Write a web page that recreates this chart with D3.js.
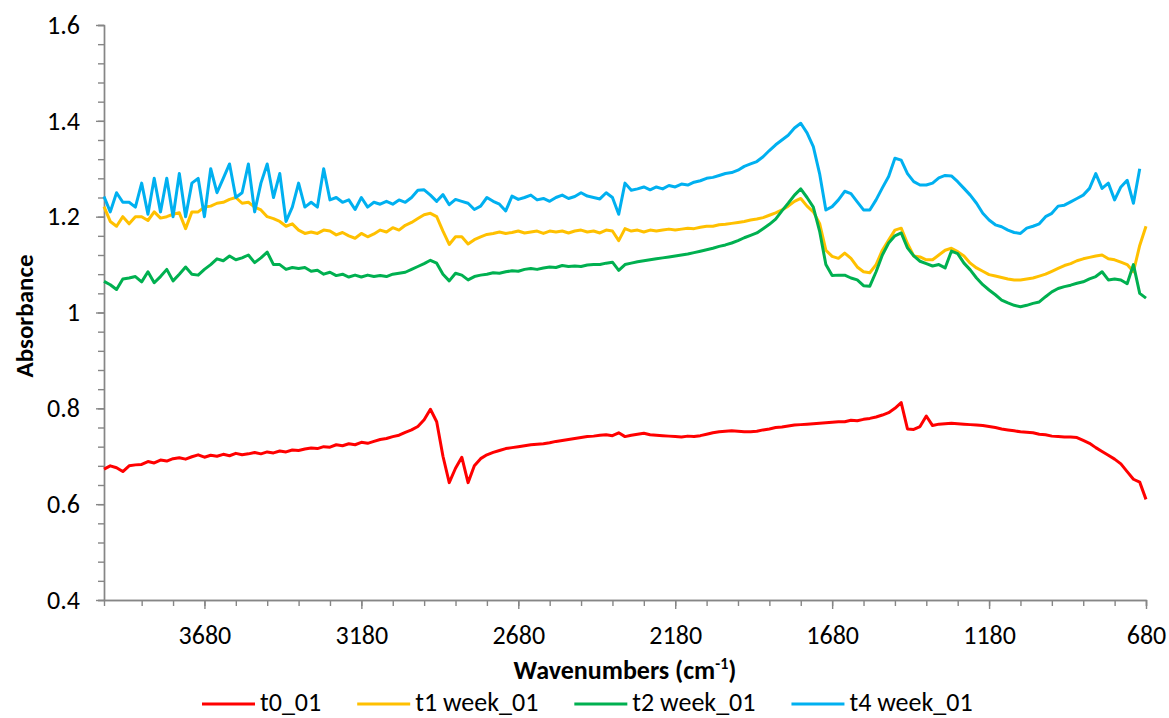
<!DOCTYPE html>
<html lang="en">

<head>
    <meta charset="UTF-8" />
    <title>FTIR spectra</title>
    <script src="https://cdn.jsdelivr.net/npm/d3@7"></script>
    <style>
        body { margin: 0; background: #fff; }
        text { font-family: Carlito, Calibri, "Liberation Sans", sans-serif; fill: #000; }
    </style>
</head>

<body>
<script>
    let w = 1169;
    let h = 718;

    // wavenumber grid, 20 cm-1 steps from 4000 down to 680
    const wavenumbers = d3.range(4000, 679, -20);

    const xTicks = [3680, 3180, 2680, 2180, 1680, 1180, 680];
    const yTicks = [0.4, 0.6, 0.8, 1, 1.2, 1.4, 1.6];

    const seriesNames = ["t0_01", "t1 week_01", "t2 week_01", "t4 week_01"];
    const seriesColors = ["#ff0000", "#ffc000", "#00b050", "#00b0f0"];

    // one row = 10 points (200 cm-1), row start in the comment
    const t0 = [
        0.673, 0.68, 0.676, 0.668, 0.68, 0.682, 0.683, 0.689, 0.686, 0.692,    // 4000
        0.69, 0.695, 0.697, 0.694, 0.699, 0.703, 0.698, 0.702, 0.7, 0.704,     // 3800
        0.701, 0.706, 0.703, 0.705, 0.708, 0.705, 0.709, 0.707, 0.711, 0.709,  // 3600
        0.713, 0.712, 0.715, 0.717, 0.716, 0.72, 0.719, 0.724, 0.722, 0.726,   // 3400
        0.724, 0.729, 0.727, 0.731, 0.735, 0.737, 0.741, 0.744, 0.75, 0.755,   // 3200
        0.762, 0.776, 0.798, 0.772, 0.70, 0.645, 0.675, 0.698, 0.645, 0.68,    // 3000
        0.695, 0.703, 0.708, 0.712, 0.716, 0.718, 0.72, 0.722, 0.724, 0.725,   // 2800
        0.726, 0.728, 0.731, 0.733, 0.735, 0.737, 0.739, 0.741, 0.742, 0.744,  // 2600
        0.745, 0.743, 0.749, 0.741, 0.744, 0.746, 0.748, 0.745, 0.744, 0.743,  // 2400
        0.742, 0.741, 0.74, 0.742, 0.741, 0.743, 0.746, 0.749, 0.751, 0.752,   // 2200
        0.753, 0.752, 0.751, 0.751, 0.752, 0.755, 0.757, 0.76, 0.761, 0.763,   // 2000
        0.765, 0.766, 0.767, 0.768, 0.769, 0.77, 0.771, 0.772, 0.772, 0.775,   // 1800
        0.774, 0.777, 0.779, 0.782, 0.786, 0.791, 0.8, 0.812, 0.757, 0.756,    // 1600
        0.762, 0.784, 0.764, 0.767, 0.768, 0.769, 0.768, 0.767, 0.766, 0.765,  // 1400
        0.764, 0.762, 0.76, 0.757, 0.755, 0.753, 0.751, 0.75, 0.749, 0.746,    // 1200
        0.745, 0.742, 0.741, 0.74, 0.74, 0.739, 0.733, 0.727, 0.718, 0.71,     // 1000
        0.702, 0.694, 0.684, 0.668, 0.652, 0.646, 0.61                         // 800
    ];

    const t1 = [
        1.221, 1.19, 1.18, 1.2, 1.185, 1.2, 1.2, 1.192, 1.21, 1.197,
        1.2, 1.205, 1.208, 1.175, 1.21, 1.21, 1.22, 1.222, 1.228, 1.23,
        1.236, 1.24, 1.228, 1.23, 1.22, 1.214, 1.2, 1.196, 1.19, 1.18,
        1.185, 1.172, 1.165, 1.168, 1.165, 1.172, 1.17, 1.162, 1.167, 1.16,
        1.155, 1.165, 1.158, 1.164, 1.172, 1.168, 1.177, 1.172, 1.182, 1.188,
        1.196, 1.204, 1.207, 1.2, 1.17, 1.142, 1.158, 1.158, 1.143, 1.152,
        1.158, 1.163, 1.165, 1.168, 1.165, 1.167, 1.17, 1.166, 1.168, 1.17,
        1.165, 1.17, 1.168, 1.17, 1.166, 1.17, 1.172, 1.168, 1.17, 1.166,
        1.172, 1.17, 1.15, 1.175, 1.17, 1.172, 1.168, 1.172, 1.17, 1.172,
        1.174, 1.172, 1.174, 1.176, 1.175, 1.178, 1.18, 1.18, 1.183, 1.184,
        1.186, 1.188, 1.19, 1.193, 1.195, 1.198, 1.203, 1.208, 1.214, 1.222,
        1.232, 1.238, 1.222, 1.21, 1.186, 1.13, 1.117, 1.113, 1.124, 1.113,
        1.095, 1.085, 1.083, 1.10, 1.13, 1.151, 1.172, 1.176, 1.144, 1.118,
        1.116, 1.11, 1.11, 1.12, 1.13, 1.134, 1.127, 1.118, 1.103, 1.093,
        1.086, 1.079, 1.076, 1.073, 1.07, 1.068, 1.068, 1.07, 1.072, 1.076,
        1.08, 1.086, 1.092, 1.098, 1.102, 1.108, 1.112, 1.115, 1.118, 1.12,
        1.112, 1.11, 1.105, 1.1, 1.085, 1.14, 1.18
    ];

    const t2 = [
        1.065, 1.058, 1.048, 1.07, 1.072, 1.075, 1.064, 1.085, 1.062, 1.075,
        1.09, 1.066, 1.08, 1.095, 1.08, 1.078, 1.09, 1.1, 1.112, 1.108,
        1.118, 1.11, 1.114, 1.12, 1.104, 1.114, 1.126, 1.1, 1.1, 1.09,
        1.094, 1.092, 1.094, 1.086, 1.088, 1.08, 1.084, 1.077, 1.08, 1.074,
        1.078, 1.074, 1.078, 1.075, 1.077, 1.075, 1.08, 1.082, 1.084, 1.09,
        1.096, 1.102, 1.109, 1.103, 1.08, 1.066, 1.082, 1.078, 1.068, 1.075,
        1.078, 1.08, 1.083, 1.082, 1.085, 1.087, 1.086, 1.09, 1.092, 1.09,
        1.093, 1.095, 1.094, 1.098, 1.096, 1.097, 1.096, 1.099, 1.1, 1.1,
        1.103, 1.105, 1.088, 1.1, 1.103, 1.106, 1.108, 1.11, 1.112, 1.114,
        1.116, 1.118, 1.12, 1.122, 1.125, 1.128, 1.131, 1.134, 1.138, 1.141,
        1.145, 1.15, 1.156, 1.161, 1.166, 1.175, 1.184, 1.195, 1.212, 1.228,
        1.245, 1.258, 1.24, 1.22, 1.17, 1.1, 1.077, 1.078, 1.078, 1.072,
        1.068, 1.056, 1.055, 1.085, 1.12, 1.145, 1.16, 1.166, 1.135, 1.118,
        1.107, 1.102, 1.097, 1.1, 1.093, 1.128, 1.123, 1.103, 1.089, 1.072,
        1.058, 1.047, 1.037, 1.026, 1.02, 1.015, 1.012, 1.015, 1.019, 1.022,
        1.033, 1.043, 1.05, 1.054, 1.057, 1.061, 1.064, 1.07, 1.075, 1.085,
        1.068, 1.07, 1.068, 1.06, 1.1, 1.04, 1.03
    ];

    const t4 = [
        1.242, 1.21, 1.25, 1.23, 1.23, 1.22, 1.27, 1.205, 1.28, 1.21,
        1.28, 1.2, 1.29, 1.2, 1.27, 1.28, 1.2, 1.3, 1.25, 1.28,
        1.31, 1.24, 1.25, 1.31, 1.21, 1.27, 1.31, 1.24, 1.29, 1.19,
        1.22, 1.27, 1.22, 1.23, 1.22, 1.30, 1.235, 1.24, 1.23, 1.235,
        1.215, 1.24, 1.22, 1.23, 1.226, 1.232, 1.226, 1.235, 1.23, 1.24,
        1.255, 1.256, 1.245, 1.232, 1.246, 1.225, 1.236, 1.232, 1.228, 1.215,
        1.222, 1.24, 1.232, 1.226, 1.212, 1.243, 1.236, 1.24, 1.245, 1.235,
        1.238, 1.232, 1.24, 1.245, 1.238, 1.242, 1.25, 1.243, 1.24, 1.237,
        1.25, 1.24, 1.205, 1.27, 1.255, 1.258, 1.262, 1.256, 1.262, 1.258,
        1.265, 1.262, 1.268, 1.266, 1.272, 1.275, 1.28, 1.282, 1.286, 1.29,
        1.292, 1.297, 1.305, 1.31, 1.315, 1.325, 1.338, 1.35, 1.36, 1.37,
        1.385, 1.395, 1.375, 1.346, 1.29, 1.214, 1.221, 1.235, 1.253, 1.248,
        1.231, 1.214, 1.214, 1.235, 1.26, 1.284, 1.322, 1.318, 1.29, 1.273,
        1.266, 1.266, 1.27, 1.281, 1.286, 1.285, 1.273, 1.259, 1.245, 1.228,
        1.207, 1.193, 1.183, 1.179, 1.172, 1.167, 1.165, 1.176, 1.18, 1.185,
        1.2, 1.207, 1.222, 1.224, 1.231, 1.238, 1.245, 1.259, 1.29, 1.259,
        1.27, 1.235, 1.262, 1.276, 1.228, 1.3, null
    ];

    const allSeries = [t0, t1, t2, t4];

    let svg = d3.select("body").append("svg")
        .attr("width", w)
        .attr("height", h);

    let x = d3.scaleLinear().domain([4000, 680]).range([104, 1146]);
    let y = d3.scaleLinear().domain([0.4, 1.6]).range([600, 25]);

    const axisColor = "#868686";

    // minor ticks first
    svg.append("g")
        .attr("transform", "translate(104,0)")
        .call(d3.axisLeft(y).tickValues(d3.range(0, 31).map(i => 0.4 + i * 0.04))
            .tickSize(6).tickFormat(""));
    svg.append("g")
        .attr("transform", "translate(0,600)")
        .call(d3.axisBottom(x).tickValues(d3.range(0, 33).map(i => 680 + i * 100))
            .tickSize(6).tickFormat(""));

    svg.append("g")
        .attr("transform", "translate(104,0)")
        .call(d3.axisLeft(y).tickValues(yTicks).tickSizeInner(8).tickSizeOuter(0)
            .tickPadding(16).tickFormat(d => d === 1 ? "1" : d3.format(".1f")(d)));
    svg.append("g")
        .attr("transform", "translate(0,600)")
        .call(d3.axisBottom(x).tickValues(xTicks).tickSizeInner(9).tickSizeOuter(0)
            .tickPadding(17).tickFormat(d3.format("d")));

    svg.selectAll(".domain, .tick line")
        .attr("stroke", axisColor)
        .attr("stroke-width", 1.4);
    svg.selectAll(".tick text")
        .attr("font-size", 26)
        .attr("font-family", "Carlito, Calibri, 'Liberation Sans', sans-serif")
        .attr("fill", "#000");

    // axis titles
    svg.append("text")
        .attr("transform", "translate(33,316) rotate(-90)")
        .attr("text-anchor", "middle")
        .attr("font-size", 25)
        .attr("font-weight", "bold")
        .text("Absorbance");

    let xt = svg.append("text")
        .attr("x", 625)
        .attr("y", 679)
        .attr("text-anchor", "middle")
        .attr("font-size", 26)
        .attr("font-weight", "bold");
    xt.append("tspan").text("Wavenumbers (cm");
    xt.append("tspan").attr("font-size", 16).attr("dy", -10).text("-1");
    xt.append("tspan").attr("dy", 10).text(")");

    // spectra
    let line = d3.line()
        .defined(d => d[1] !== null)
        .x(d => x(d[0]))
        .y(d => y(d[1]));

    svg.append("g").selectAll("path")
        .data(allSeries)
        .enter().append("path")
        .attr("d", s => line(wavenumbers.map((wn, i) => [wn, s[i]])))
        .attr("fill", "none")
        .attr("stroke", (s, i) => seriesColors[i])
        .attr("stroke-width", 3)
        .attr("stroke-linejoin", "round");

    // legend
    let lx = 202;
    let legend = svg.append("g");
    seriesNames.forEach((name, i) => {
        legend.append("line")
            .attr("x1", lx).attr("x2", lx + 53)
            .attr("y1", 704).attr("y2", 704)
            .attr("stroke", seriesColors[i])
            .attr("stroke-width", 3);
        let t = legend.append("text")
            .attr("x", lx + 58)
            .attr("y", 711)
            .attr("font-size", 26)
            .text(name);
        lx += 58 + t.node().getComputedTextLength() + 36;
    });
</script>
</body>

</html>
